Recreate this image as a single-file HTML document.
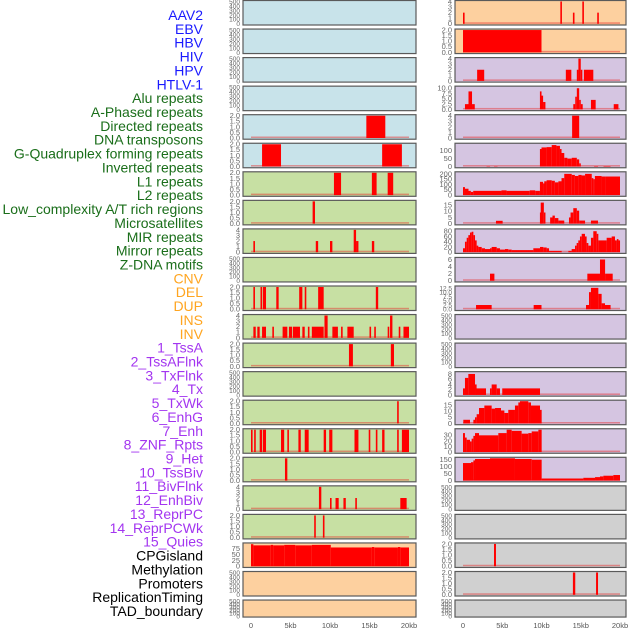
<!DOCTYPE html>
<html><head><meta charset="utf-8"><style>
html,body{margin:0;padding:0;background:#fff;}
svg{display:block;font-family:"Liberation Sans",sans-serif;}
</style></head><body>
<svg id="chart" width="630" height="630" viewBox="0 0 630 630" xmlns="http://www.w3.org/2000/svg"></svg>
<script>
// ---- row labels ----
const labelNames = ["AAV2","EBV","HBV","HIV","HPV","HTLV-1","Alu repeats","A-Phased repeats","Directed repeats","DNA transposons","G-Quadruplex forming repeats","Inverted repeats","L1 repeats","L2 repeats","Low_complexity A/T rich regions","Microsatellites","MIR repeats","Mirror repeats","Z-DNA motifs","CNV","DEL","DUP","INS","INV","1_TssA","2_TssAFlnk","3_TxFlnk","4_Tx","5_TxWk","6_EnhG","7_Enh","8_ZNF_Rpts","9_Het","10_TssBiv","11_BivFlnk","12_EnhBiv","13_ReprPC","14_ReprPCWk","15_Quies","CPGisland","Methylation","Promoters","ReplicationTiming","TAD_boundary"];
const labelGroups = [6,13,5,15,5];
const xTickLabels = ["0","5kb","10kb","15kb","20kb"];
const xTickValues = [0,5,10,15,20];

// ---- left column series: [startKb, endKb, value] ----
const L0=[],L1=[],L2=[],L3=[];
const L4=[[14.6,17.0,2]];
const L5=[[1.4,3.8,2],[16.6,19.1,2]];
const L6=[[10.5,11.4,2],[15.3,15.9,2],[17.3,18.0,2]];
const L7=[[7.8,8.1,2]];
const L8=[[0.3,0.5,2],[8.2,8.5,2],[10.0,10.3,2],[13.0,13.3,4],[13.3,13.6,2],[15.3,15.6,2]];
const L9=[];
const L10=[[0.3,0.5,2],[1.2,1.4,2],[1.5,1.9,2],[3.2,3.5,2],[6.1,6.5,2],[6.8,7.0,2],[8.5,9.2,2],[15.8,16.1,2]];
const L11=[[0.3,0.6,2],[0.8,1.1,2],[1.4,1.9,2],[2.7,2.9,2],[4.0,4.6,2],[4.8,5.2,2],[5.3,6.2,2],[6.5,6.8,2],[7.2,7.4,2],[7.7,9.2,2],[9.3,9.7,4],[10.3,11.0,2],[11.4,11.6,2],[12.2,13.0,2],[15.0,15.2,2],[15.6,15.8,2],[17.3,17.5,2],[17.6,17.9,4],[18.7,18.9,2],[19.3,20.0,2]];
const L12=[[12.4,12.9,2],[17.7,18.1,2]];
const L13=[];
const L14=[[18.5,18.7,2]];
const L15=[[0.0,0.1,2],[0.4,0.6,2],[1.1,1.4,2],[1.5,1.9,2],[3.8,4.2,2],[4.6,4.8,2],[6.0,6.3,2],[6.8,7.3,2],[9.2,9.5,2],[9.9,10.3,2],[13.1,13.6,2],[14.9,15.1,2],[15.8,16.0,2],[16.6,16.9,2],[18.5,18.7,2],[19.1,20.0,2]];
const L16=[[4.3,4.6,2]];
const L17=[[8.6,8.9,4],[10.0,10.2,2],[10.7,11.1,2],[11.7,12.0,2],[13.2,13.4,2],[18.9,19.7,2]];
const L18=[[8.0,8.2,2],[9.1,9.3,2]];
const L19=[[0,0.3,94],[0.3,2.5,89],[2.5,2.8,91],[2.8,4.2,89],[4.2,5.6,91],[5.6,7.7,89],[7.7,10.1,91],[10.1,15.3,80],[15.3,15.6,82],[15.6,18.6,80],[18.6,18.9,82],[18.9,20.0,80]];
const L20=[],L21=[];

// ---- right column series ----
const R0=[[0.0,0.2,2],[12.4,12.6,4],[14.0,14.2,2],[15.2,15.4,4],[17.1,17.3,2]];
const R1=[[0.0,10.0,2]];
const R2=[[1.8,2.7,2],[13.1,13.8,2],[14.5,14.7,2],[14.7,15.0,4],[15.0,15.2,2],[15.4,16.6,2]];
const R3=[[0.25,0.7,2.5],[0.7,1.15,8.5],[1.15,1.5,2.5],[9.8,10.0,8.5],[10.0,10.2,6.5],[10.2,10.5,3.5],[14.05,14.3,2.5],[14.3,14.5,6],[14.5,14.8,10],[14.8,15.0,4.5],[15.0,15.25,2.5],[16.3,16.9,4.5],[19.2,19.8,2.5]];
const R4=[[13.9,14.8,4]];
const R5=[[3.0,3.45,2],[3.95,4.4,2],[9.8,10.0,110],[10.0,10.65,120],[10.65,11.3,122],[11.3,11.9,135],[11.9,12.35,130],[12.35,12.55,110],[12.55,12.9,85],[12.9,13.3,55],[13.3,13.85,50],[13.85,14.5,55],[14.5,14.8,45],[14.8,14.9,20],[16.7,17.2,3],[17.9,18.8,3]];
const R6=[[0,0.25,75],[0.25,0.7,60],[0.7,1.0,40],[1.0,1.3,30],[1.3,4.9,40],[4.9,5.55,45],[5.55,8.5,40],[8.5,9.2,45],[9.2,9.8,40],[9.8,10.2,125],[10.2,10.35,110],[10.35,10.65,130],[10.65,11.3,140],[11.3,11.7,135],[11.7,12.15,120],[12.15,12.55,130],[12.55,12.9,160],[12.9,13.85,200],[13.85,14.25,190],[14.25,14.7,180],[14.7,15.1,190],[15.1,15.55,185],[15.55,16.4,200],[16.4,16.6,160],[16.6,16.8,150],[16.8,17.65,180],[17.65,18.1,175],[18.1,20.0,175]];
const R7=[[4.2,5.05,2.3],[9.8,9.9,9],[9.9,10.3,17],[10.3,10.5,9],[11.1,11.4,5],[11.4,11.7,6.5],[11.7,12.15,4.5],[12.15,12.9,2.5],[13.5,13.7,5],[13.7,14.05,9],[14.05,14.5,12.5],[14.5,14.8,10.5],[14.8,15.55,2.5],[16.3,17.2,2.5]];
const R8=[[0,0.25,15],[0.25,0.47,40],[0.47,0.68,55],[0.68,0.89,65],[0.89,1.1,75],[1.1,1.32,78],[1.32,1.53,65],[1.53,1.74,45],[1.74,1.95,25],[1.95,2.38,20],[2.38,2.8,15],[2.8,3.44,12],[3.44,3.65,15],[3.65,4.29,20],[4.29,4.71,15],[4.71,5.35,10],[5.35,5.77,12],[5.77,6.2,10],[6.2,8.96,8],[8.96,9.81,15],[9.81,10.23,20],[10.23,10.66,18],[10.66,10.96,15],[10.96,12.57,5],[13.42,13.84,5],[13.84,14.27,12],[14.27,14.48,25],[14.48,14.69,35],[14.69,14.9,45],[14.9,15.12,60],[15.12,15.54,70],[15.54,15.75,60],[15.75,15.97,35],[15.97,16.3,25],[16.3,16.6,55],[16.6,17.03,80],[17.03,17.24,70],[17.24,18.3,45],[18.3,18.94,55],[18.94,19.36,60],[19.36,19.6,45],[19.6,19.8,50],[19.8,20.0,45]];
const R9=[[3.44,4.0,2],[15.84,17.45,2],[17.45,18.1,6],[18.1,19.07,2]];
const R10=[[1.66,3.65,2.5],[9.0,10.0,2.5],[15.67,16.05,2.5],[16.05,16.3,10],[16.3,17.24,12.5],[17.24,17.66,9],[17.66,18.09,3.5],[18.09,18.8,2.5]];
const R11=[],R12=[];
const R13=[[0,0.25,2.5],[0.25,0.68,6.5],[0.68,1.53,8],[1.53,1.66,4],[1.66,2.93,2.5],[3.44,3.65,2.5],[3.65,4.29,4],[4.29,4.71,2.5],[5.0,9.81,2.5]];
const R14=[[0.04,0.89,3],[1.32,1.53,3],[1.53,1.74,5],[1.74,2.04,7.5],[2.04,2.72,12.5],[2.72,3.65,14.5],[3.65,4.08,12],[4.08,4.84,12.5],[4.84,5.27,10.5],[5.27,5.77,8.5],[5.77,6.62,11],[6.62,7.05,14.5],[7.05,7.26,17],[7.26,8.32,18],[8.32,8.66,17],[8.66,9.81,14.5],[9.81,10.02,11]];
const R15=[[0,0.25,34],[0.25,0.47,26],[0.47,0.89,22],[0.89,1.1,19],[1.1,1.32,24],[1.32,1.53,29],[1.53,2.04,34],[2.04,4.5,30],[4.5,5.56,34],[5.56,6.2,40],[6.2,7.47,38],[7.47,8.32,33],[8.32,8.75,34],[8.75,9.6,37],[9.6,10.02,40]];
const R16=[[0,1.02,126],[1.02,1.32,132],[1.32,1.53,145],[1.53,3.44,155],[3.44,6.62,160],[6.62,8.75,155],[8.75,10.02,150],[10.02,15.33,15],[15.33,16.82,20],[16.82,17.45,25],[17.45,17.88,30],[17.88,19.15,35],[19.15,20.0,40]];
const R17=[],R18=[];
const R19=[[3.95,4.2,2]];
const R20=[[14.0,14.3,2],[16.95,17.2,2]];
const R21=[];

const leftSeries=[L0,L1,L2,L3,L4,L5,L6,L7,L8,L9,L10,L11,L12,L13,L14,L15,L16,L17,L18,L19,L20,L21];
const rightSeries=[R0,R1,R2,R3,R4,R5,R6,R7,R8,R9,R10,R11,R12,R13,R14,R15,R16,R17,R18,R19,R20,R21];
// y-axis max and ticks per panel
const leftYMax=[500,500,500,500,2,2,2,2,4,500,2,4,2,500,2,2,2,4,2,95,500,500];
const rightYMax=[4,2,4,10.5,4,140,210,18,85,6.3,13,500,500,8.5,18,40,160,500,500,2,2,500];
const T500=[0,100,200,300,400,500],T2=[0,0.5,1,1.5,2],T4=[0,1,2,3,4];
const leftTicks=[T500,T500,T500,T500,T2,T2,T2,T2,T4,T500,T2,T4,T2,T500,T2,T2,T2,T4,T2,[0,25,50,75],T500,T500];
const rightTicks=[T4,T2,T4,[0,2.5,5,7.5,10],T4,[0,50,100],[0,50,100,150,200],[0,5,10,15],[0,20,40,60,80],[0,2,4,6],[0,2.5,5,7.5,10,12.5],T500,T500,[0,2,4,6,8],[0,5,10,15],[0,10,20,30],[0,50,100,150],T500,T500,T2,T2,T500];

const BLUE="#c8e3ea",GREEN="#c7e0a3",PEACH="#fdd09f",LAV="#d5c5e1",GRAY="#d0d0d0";
const leftBg=[BLUE,BLUE,BLUE,BLUE,BLUE,BLUE,GREEN,GREEN,GREEN,GREEN,GREEN,GREEN,GREEN,GREEN,GREEN,GREEN,GREEN,GREEN,GREEN,PEACH,PEACH,PEACH];
const rightBg=[PEACH,PEACH,LAV,LAV,LAV,LAV,LAV,LAV,LAV,LAV,LAV,LAV,LAV,LAV,LAV,LAV,LAV,GRAY,GRAY,GRAY,GRAY,GRAY];

const NS="http://www.w3.org/2000/svg";
const svg=document.getElementById('chart');
function mk(tag,attrs,parent){const e=document.createElementNS(NS,tag);for(const k in attrs)e.setAttribute(k,attrs[k]);(parent||svg).appendChild(e);return e;}

// labels
const groupColors=["#1a1aff","#1a6e1a","#ffa520","#a335f0","#000000"];
let gi=0,gc=0;
labelNames.forEach((name,i)=>{
  while(gc>=labelGroups[gi]){gi++;gc=0;}
  gc++;
  const t=mk('text',{x:203,y:20+i*13.86,'text-anchor':'end','font-size':14,fill:groupColors[gi]});
  t.textContent=name;
  
  
});

const cols=[
  {px:243,pw:173,x0:251,x1:409,tickX:240,series:leftSeries,ymax:leftYMax,ticks:leftTicks,bg:leftBg,side:'left'},
  {px:455,pw:171,x0:463,x1:620,tickX:452,series:rightSeries,ymax:rightYMax,ticks:rightTicks,bg:rightBg,side:'right'}
];
cols.forEach(c=>{
  const xs=kb=>c.x0+(c.x1-c.x0)*kb/20;
  for(let i=0;i<22;i++){
    const top=0.5+i*28.55;
    const h=(i===21)?17:24.5;
    const g=mk('g',{});
    
    
    const rect=mk('rect',{x:c.px,y:top,width:c.pw,height:h,fill:c.bg[i],stroke:'#5a5a5a','stroke-width':1.2},g);
    
    
    const yb=top+h-1.2, yt=top+1;
    const ys=v=>yb-(yb-yt)*v/c.ymax[i];
    const s=c.series[i];
    if(s.length){
      const base=mk('rect',{x:xs(0),y:yb-1.5,width:xs(20)-xs(0),height:1.5,fill:'rgba(230,40,40,0.45)'},g);
      
      
    }
    s.forEach(seg=>{
      const y=Math.max(yt,ys(seg[2]));
      const b=mk('rect',{x:xs(seg[0]),y:y,width:Math.max(1.6,xs(seg[1])-xs(seg[0])),height:yb-y,fill:'#ff0000'},g);
      
      
    });
    const tk=c.ticks[i];
    const dec=tk.some(v=>!Number.isInteger(v));
    const fs=tk.length>=6?6.5:7.5;
    tk.forEach(tv=>{
      const t=mk('text',{x:c.tickX,y:ys(tv)+2.4,'text-anchor':'end','font-size':fs,fill:'#666'},g);
      t.textContent=dec?tv.toFixed(1):String(tv);
      
      
    });
  }
  xTickValues.forEach((v,k)=>{
    const t=mk('text',{x:xs(v),y:628,'text-anchor':'middle','font-size':7.5,fill:'#555'});
    t.textContent=xTickLabels[k];
    
    
  });
});
</script>
</body></html>
